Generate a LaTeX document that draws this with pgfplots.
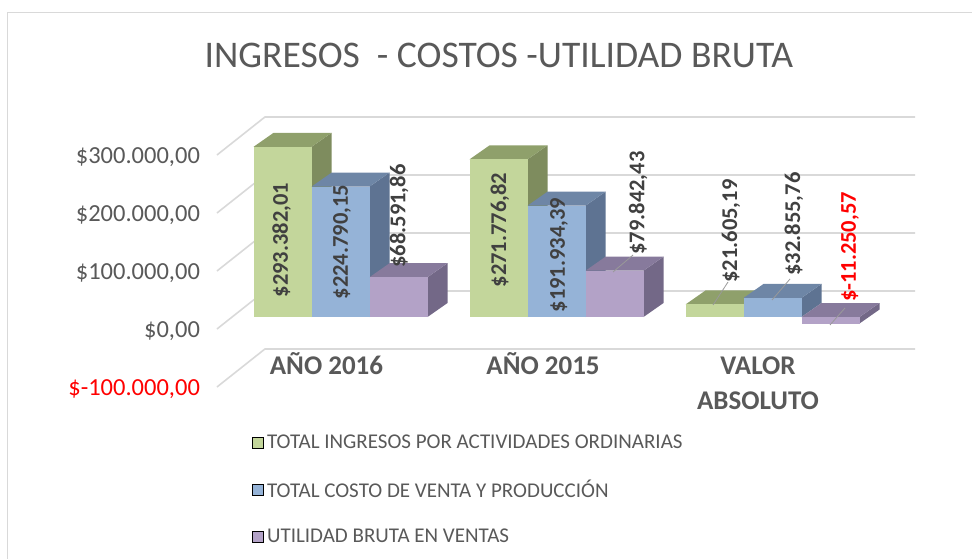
\documentclass[border=0pt]{standalone}
\usepackage{pgfplots}
\pgfplotsset{compat=1.18}
\usepackage{fontspec}
\setmainfont{Carlito}
\definecolor{txt}{HTML}{595959}
\definecolor{lbl}{HTML}{404040}
\definecolor{gridc}{HTML}{D9D9D9}
\definecolor{gF}{HTML}{C3D69B}
\definecolor{gT}{HTML}{8FA06B}
\definecolor{gS}{HTML}{7E8C5E}
\definecolor{bF}{HTML}{95B3D7}
\definecolor{bT}{HTML}{6E86A6}
\definecolor{bS}{HTML}{5E7392}
\definecolor{pF}{HTML}{B3A2C7}
\definecolor{pT}{HTML}{877A9C}
\definecolor{pS}{HTML}{736887}
% 3D bar: #1 x centre, #2 bottom value, #3 top value, #4 colour prefix
\newcommand\tdbar[4]{%
  \pgfkeys{/pgf/fpu=true,/pgf/fpu/output format=fixed}%
  \pgfmathsetmacro\tdXl{#1-0.13425}%
  \pgfmathsetmacro\tdXr{#1+0.13425}%
  \pgfmathsetmacro\tdXlb{#1-0.13425+0.0926}%
  \pgfmathsetmacro\tdXrb{#1+0.13425+0.0926}%
  \pgfmathsetmacro\tdBb{#2+24138}%
  \pgfmathsetmacro\tdTb{#3+24138}%
  \pgfkeys{/pgf/fpu=false}%
  \addplot[forget plot, mark=none, draw=none, fill=#4S] coordinates {(\tdXr,#2) (\tdXr,#3) (\tdXrb,\tdTb) (\tdXrb,\tdBb)};
  \addplot[forget plot, mark=none, draw=none, fill=#4T] coordinates {(\tdXl,#3) (\tdXr,#3) (\tdXrb,\tdTb) (\tdXlb,\tdTb)};
  \addplot[forget plot, mark=none, draw=none, fill=#4F] coordinates {(\tdXl,#2) (\tdXr,#2) (\tdXr,#3) (\tdXl,#3)};
}
\begin{document}
\begin{tikzpicture}
\useasboundingbox (-206.6pt,-166.6pt) rectangle (765.4pt,392.4pt);
\draw[gridc, line width=1pt] (-198.6pt,379.4pt) rectangle (790pt,-200pt);
\begin{axis}[
  at={(0pt,0pt)}, anchor=south west,
  scale only axis, width=727.9pt, height=278.4pt,
  xmin=-0.62, xmax=2.75, ymin=-130000, ymax=350000,
  clip=false,
  axis line style={draw=none},
  major tick length=0pt,
  xtick=\empty,
  ytick={-100000,0,100000,200000,300000},
  yticklabels={{\color{red}\$-100.000,00},{\$0,00},{\$100.000,00},{\$200.000,00},{\$300.000,00}},
  scaled y ticks=false,
  /pgf/number format/assume math mode=true,
  yticklabel style={anchor=east, inner sep=0pt, xshift=-6.5pt, yshift=-14pt, font=\fontsize{24.5}{27}\selectfont, text=txt},
  legend style={at={(0.0575,-0.138)}, anchor=north west, draw=none, fill=none,
    font=\fontsize{21}{24}\selectfont, text=txt, row sep=26pt,
    /tikz/every odd column/.append style={column sep=2pt}},
  legend cell align=left,
  legend image code/.code={\fill[#1] (0pt,-5.5pt) rectangle (11pt,5.5pt);},
]
% gridlines (back wall and floor edge)
\addplot[forget plot, mark=none, gridc, line width=1.6pt] coordinates {(-0.572,-120690) (-0.35,-55173) (2.66,-55173)};
\addplot[forget plot, mark=none, gridc, line width=1.6pt] coordinates {(-0.572,-20690) (-0.35,44827) (2.66,44827)};
\addplot[forget plot, mark=none, gridc, line width=1.6pt] coordinates {(-0.572,79310) (-0.35,144827) (2.66,144827)};
\addplot[forget plot, mark=none, gridc, line width=1.6pt] coordinates {(-0.572,179310) (-0.35,244827) (2.66,244827)};
\addplot[forget plot, mark=none, gridc, line width=1.6pt] coordinates {(-0.572,279310) (-0.35,344827) (2.66,344827)};
% bars: AÑO 2016
\tdbar{-0.2685}{0}{293382.01}{g}
\tdbar{0}{0}{224790.15}{b}
\tdbar{0.2685}{0}{68591.86}{p}
% AÑO 2015
\tdbar{0.7315}{0}{271776.82}{g}
\tdbar{1}{0}{191934.39}{b}
\tdbar{1.2685}{0}{79842.43}{p}
% VALOR ABSOLUTO
\tdbar{1.7315}{0}{21605.19}{g}
\tdbar{2}{0}{32855.76}{b}
\tdbar{2.2685}{-11250.57}{0}{p}
% legend
\addlegendimage{fill=gF}
\addlegendentry{TOTAL INGRESOS POR ACTIVIDADES ORDINARIAS}
\addlegendimage{fill=bF}
\addlegendentry{TOTAL COSTO DE VENTA Y PRODUCCIÓN}
\addlegendimage{fill=pF}
\addlegendentry{UTILIDAD BRUTA EN VENTAS}
% leader lines
\draw[gray!80, line width=0.8pt] (axis cs:1.2616,77586) -- (axis cs:1.3542,106896);
\draw[gray!80, line width=0.8pt] (axis cs:1.7245,20689) -- (axis cs:1.794,60344);
\draw[gray!80, line width=0.8pt] (axis cs:1.9977,29310) -- (axis cs:2.081,65516);
\draw[gray!80, line width=0.8pt] (axis cs:2.2662,-13793) -- (axis cs:2.3356,15517);
% data labels
\begin{scope}[every node/.style={rotate=90, font=\bfseries\fontsize{22.5}{24}\selectfont, text=lbl, inner sep=0pt}]
\node at (axis cs:-0.273,132756) {\$293.382,01};
\node at (axis cs:0.0069,129308) {\$224.790,15};
\node at (axis cs:0.271,174134) {\$68.591,86};
\node at (axis cs:0.738,150000) {\$271.776,82};
\node at (axis cs:1.0116,106894) {\$191.934,39};
\node at (axis cs:1.3773,196547) {\$79.842,43};
\node at (axis cs:1.8079,148273) {\$21.605,19};
\node at (axis cs:2.0995,160341) {\$32.855,76};
\node[text=red] at (axis cs:2.3588,120687) {\$-11.250,57};
\end{scope}
% category labels
\begin{scope}[every node/.style={anchor=base, font=\bfseries\fontsize{27}{30}\selectfont, text=txt, inner sep=0pt}]
\node at (axis cs:-0.065,-100000) {AÑO 2016};
\node at (axis cs:0.9375,-100000) {AÑO 2015};
\node at (axis cs:1.933,-100000) {VALOR};
\node at (axis cs:1.933,-160341) {ABSOLUTO};
\end{scope}
\end{axis}
\node[anchor=base, font=\fontsize{37.6}{40}\selectfont, text=txt, inner sep=0pt] at (292.4pt,324.4pt) {INGRESOS\ \ - COSTOS -UTILIDAD BRUTA};
\end{tikzpicture}
\end{document}
